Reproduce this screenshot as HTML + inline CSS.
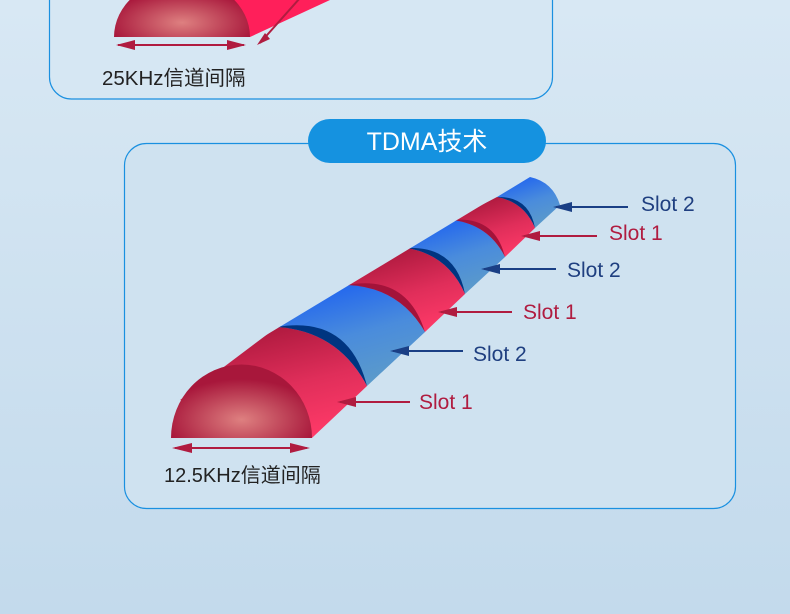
<!DOCTYPE html>
<html><head><meta charset="utf-8"><style>
html,body{margin:0;padding:0}
body{width:790px;height:614px;overflow:hidden;background:linear-gradient(#d8e8f4,#c3daec);font-family:"Liberation Sans","Noto Sans CJK SC",sans-serif}
</style></head><body>
<svg width="790" height="614" viewBox="0 0 790 614" xmlns="http://www.w3.org/2000/svg" style="position:absolute;left:0;top:0">
<defs>
<linearGradient id="red" x1="0.3" y1="0" x2="0.7" y2="1"><stop offset="0" stop-color="#a8173b"/><stop offset="0.55" stop-color="#e02e5a"/><stop offset="1" stop-color="#ff3a68"/></linearGradient>
<linearGradient id="blue" x1="0.3" y1="0" x2="0.7" y2="1"><stop offset="0" stop-color="#1f63f0"/><stop offset="0.5" stop-color="#4a8cdc"/><stop offset="1" stop-color="#5d9cc8"/></linearGradient>
<radialGradient id="dome" cx="0.5" cy="0.75" r="0.55"><stop offset="0" stop-color="#de8080"/><stop offset="1" stop-color="#a8173b"/></radialGradient>
<clipPath id="tube"><polygon points="180,400 200,375 530,176 568,186 562,206 312,438 171,438"/></clipPath>
</defs>
<!-- top panel -->
<rect x="49.5" y="-30" width="503" height="129" rx="22" fill="#d6e7f3" stroke="#1a90e0" stroke-width="1.2"/>
<polygon points="200,0 330,0 250,37 120,37" fill="#ff1f5a"/>
<path d="M114,37 A68,58 0 0 1 250,37 Z" fill="url(#dome)"/>
<line x1="300" y1="-2" x2="260" y2="43" stroke="#b01c40" stroke-width="2"/>
<path d="M257,45 L265,33 L270,39 Z" fill="#b01c40"/>
<line x1="118" y1="45" x2="244" y2="45" stroke="#b01c40" stroke-width="2"/>
<path d="M116,45 L135,40 L135,50 Z M246,45 L227,40 L227,50 Z" fill="#b01c40"/>
<text x="102" y="85" font-size="20.5" fill="#222">25KHz信道间隔</text>
<!-- main panel -->
<rect x="124.5" y="143.5" width="611" height="365" rx="22" fill="#cfe2f0" stroke="#1a90e0" stroke-width="1.2"/>
<rect x="308" y="119" width="238" height="44" rx="22" fill="#1592e0"/>
<text x="427" y="150" font-size="25" fill="#fff" text-anchor="middle">TDMA技术</text>
<!-- tube -->
<g clip-path="url(#tube)">
<path d="M497,197 L535,228 L560,205 Q553,182 530,177 Z" fill="url(#blue)"/>
<path d="M497,197 Q529,196 535,228 Q524,202 497,197 Z" fill="#003580"/>
<path d="M453,220 L505,257 L535,228 Q524,202 497,197 Z" fill="url(#red)"/>
<path d="M453,220 Q495,216 505,257 Q489,225 453,220 Z" fill="#a3133a"/>
<path d="M407,248 L465,294 L505,257 Q489,225 453,220 Z" fill="url(#blue)"/>
<path d="M407,248 Q456,246 465,294 Q448,255 407,248 Z" fill="#003580"/>
<path d="M347,285 L425,332 L465,294 Q448,255 407,248 Z" fill="url(#red)"/>
<path d="M347,285 Q407,274 425,332 Q399,287 347,285 Z" fill="#a3133a"/>
<path d="M277,327 L367,386 L425,332 Q399,287 347,285 Z" fill="url(#blue)"/>
<path d="M277,327 Q349,315 367,386 Q338,331 277,327 Z" fill="#003580"/>
<path d="M180,400 L312,438 L367,386 Q338,331 277,327 Z" fill="url(#red)"/>
</g>
<path d="M171,438 A70,73 0 0 1 312,438 Z" fill="url(#dome)"/>
<!-- labels -->
<g stroke-width="2" font-size="21">
<line x1="628" y1="207" x2="556" y2="207" stroke="#1a3f85"/><path d="M553,207 L572,202 L572,212 Z" fill="#1a3f85"/>
<text x="641" y="211" fill="#1f3f80">Slot 2</text>
<line x1="597" y1="236" x2="524" y2="236" stroke="#b01c40"/><path d="M521,236 L540,231 L540,241 Z" fill="#b01c40"/>
<text x="609" y="240" fill="#b01c40">Slot 1</text>
<line x1="556" y1="269" x2="484" y2="269" stroke="#1a3f85"/><path d="M481,269 L500,264 L500,274 Z" fill="#1a3f85"/>
<text x="567" y="277" fill="#1f3f80">Slot 2</text>
<line x1="512" y1="312" x2="441" y2="312" stroke="#b01c40"/><path d="M438,312 L457,307 L457,317 Z" fill="#b01c40"/>
<text x="523" y="319" fill="#b01c40">Slot 1</text>
<line x1="463" y1="351" x2="393" y2="351" stroke="#1a3f85"/><path d="M390,351 L409,346 L409,356 Z" fill="#1a3f85"/>
<text x="473" y="361" fill="#1f3f80">Slot 2</text>
<line x1="410" y1="402" x2="340" y2="402" stroke="#b01c40"/><path d="M337,402 L356,397 L356,407 Z" fill="#b01c40"/>
<text x="419" y="409" fill="#b01c40">Slot 1</text>
</g>
<line x1="175" y1="448" x2="307" y2="448" stroke="#b01c40" stroke-width="2"/>
<path d="M172,448 L192,443 L192,453 Z M310,448 L290,443 L290,453 Z" fill="#b01c40"/>
<text x="164" y="482" font-size="20" fill="#222">12.5KHz信道间隔</text>
</svg>
</body></html>
